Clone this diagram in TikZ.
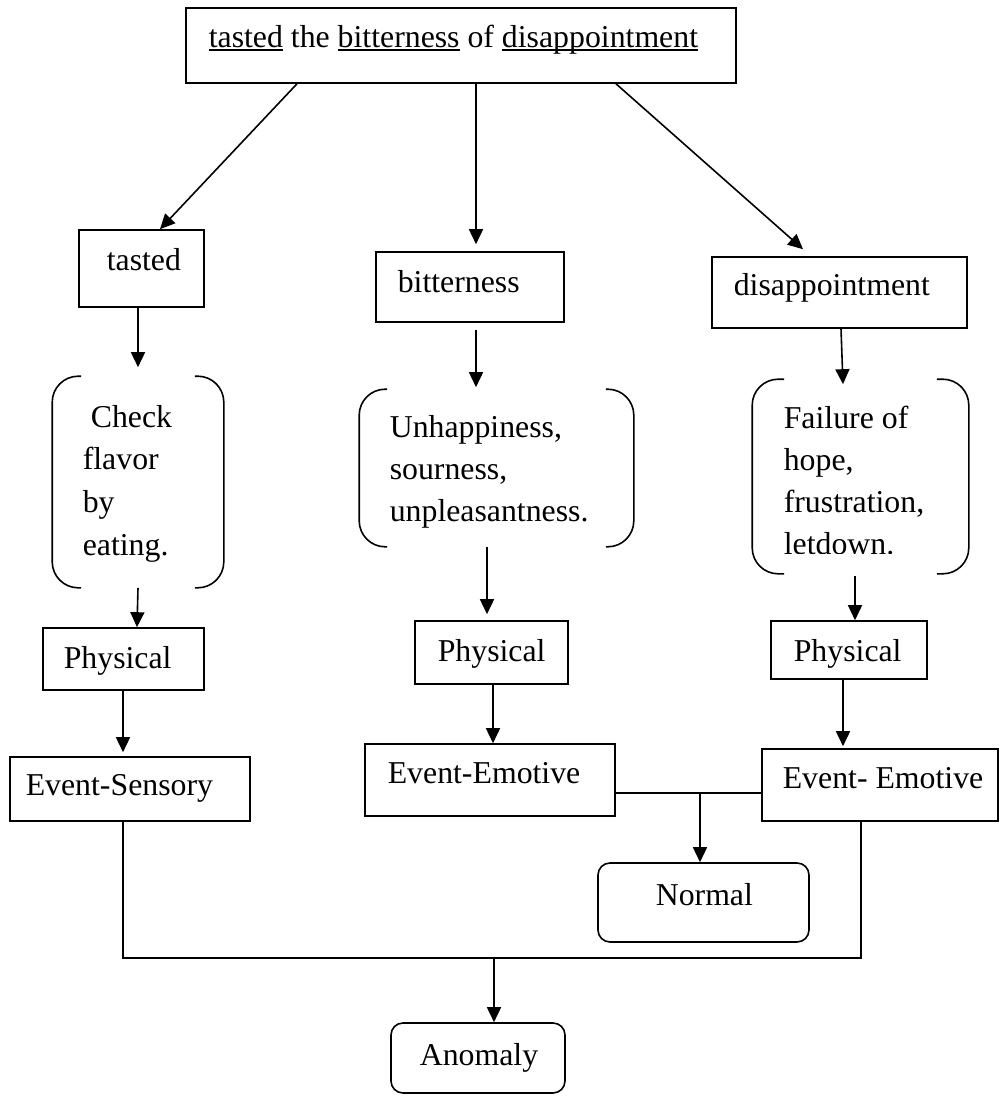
\documentclass[tikz,border=0pt]{standalone}
\usepackage{fontspec}
\setmainfont{Liberation Serif}
\usetikzlibrary{arrows.meta,calc}

% underline at a fixed depth, crossing descenders
\newcommand\wordline[1]{\setbox0\hbox{#1}\rlap{\rule[-2.6pt]{\wd0}{1.4pt}}\box0\relax}

% a pair of round brackets drawn on the corners of a named node
\newcommand\drawbrackets[2]{%
  \draw[rounded corners=26pt] ([xshift=#2]#1.north west) -- (#1.north west) -- (#1.south west) -- ([xshift=#2]#1.south west);
  \draw[rounded corners=26pt] ([xshift=-#2]#1.north east) -- (#1.north east) -- (#1.south east) -- ([xshift=-#2]#1.south east);}

\begin{document}
\begin{tikzpicture}[x=1pt, y=-1pt, line width=1.6pt,
  box/.style={draw, rectangle, inner sep=0pt},
  rbox/.style={draw, rectangle, rounded corners=12pt, inner sep=0pt},
  hold/.style={rectangle, inner sep=0pt},
  txt/.style={anchor=base west, inner sep=0pt, font=\fontsize{31.8}{40}\selectfont},
  arr/.style={-{Triangle[length=15pt,width=14pt]}}]

\useasboundingbox (0,0) rectangle (1001,1097);

% ---- boxes ----
\node[box, minimum width=550pt, minimum height=75pt] (top) at (461,45.5) {};
\node[box, minimum width=125pt, minimum height=77pt] (tasted) at (141.5,268.5) {};
\node[box, minimum width=188pt, minimum height=70pt] (bitter) at (470,287) {};
\node[box, minimum width=255pt, minimum height=71pt] (disap) at (839.5,292.5) {};

\node[hold, minimum width=170pt, minimum height=210pt] (brA) at (138,482) {};
\node[hold, minimum width=273pt, minimum height=156pt] (brB) at (496.5,468) {};
\node[hold, minimum width=215pt, minimum height=193pt] (brC) at (860.5,476.5) {};
\drawbrackets{brA}{29pt}
\drawbrackets{brB}{28pt}
\drawbrackets{brC}{32pt}

\node[box, minimum width=161pt, minimum height=62pt] (physA) at (123.5,659) {};
\node[box, minimum width=153pt, minimum height=63pt] (physB) at (491.5,652.5) {};
\node[box, minimum width=156pt, minimum height=58pt] (physC) at (849,650) {};

\node[box, minimum width=240pt, minimum height=64pt] (evA) at (130,789) {};
\node[box, minimum width=250pt, minimum height=72pt] (evB) at (490,780) {};
\node[box, minimum width=236pt, minimum height=72pt] (evC) at (880,785) {};

\node[rbox, minimum width=211pt, minimum height=79pt] (normal) at (703.5,902.5) {};
\node[rbox, minimum width=174pt, minimum height=70pt] (anomaly) at (478,1058) {};

% ---- texts ----
\node[txt] (tTop) at (208,48) {\wordline{tasted} the \wordline{bitterness} of \wordline{disappointment}};
\node[txt] (tTasted) at (106,270) {tasted};
\node[txt] (tBitter) at (397,292) {bitterness};
\node[txt] (tDisap) at (733,295) {disappointment};

\node[txt] (tA1) at (90,427) {Check};
\node[txt] (tA2) at (82,469) {flavor};
\node[txt] (tA3) at (82,512) {by};
\node[txt] (tA4) at (82,555) {eating.};

\node[txt] (tB1) at (389,437) {Unhappiness,};
\node[txt] (tB2) at (389,479) {sourness,};
\node[txt] (tB3) at (389,521) {unpleasantness.};

\node[txt] (tC1) at (783,428) {Failure of};
\node[txt] (tC2) at (783,470) {hope,};
\node[txt] (tC3) at (783,512) {frustration,};
\begin{scope}
  \clip (740,500) rectangle (960,553);
  \node[txt] (tC4) at (783,554) {letdown.};
\end{scope}

\node[txt] (tPA) at (63,668) {Physical};
\node[txt] (tPB) at (437,661) {Physical};
\node[txt] (tPC) at (793,661) {Physical};

\node[txt] (tEA) at (25,795) {Event-Sensory};
\node[txt] (tEB) at (387,783) {Event-Emotive};
\node[txt] (tEC) at (782,788) {Event- Emotive};
\node[txt] (tN) at (655,905) {Normal};
\node[txt] (tAn) at (419,1065) {Anomaly};

% ---- connectors ----
\draw[arr] ([xshift=-164pt]top.south) -- ([xshift=18.5pt]tasted.north);
\draw[arr] ([xshift=15pt]top.south) -- ([xshift=6pt,yshift=7pt]bitter.north);
\draw[arr] ([xshift=155pt]top.south) -- ([xshift=-36.5pt,yshift=7pt]disap.north);

\draw[arr] ([xshift=-3.5pt]tasted.south) -- ([yshift=9pt]brA.north);
\draw[arr] ([xshift=6pt,yshift=-7pt]bitter.south) -- ([xshift=-20.5pt,yshift=2pt]brB.north);
\draw[arr] ([xshift=1.5pt]disap.south) -- ([xshift=-17.5pt,yshift=-5pt]brC.north);

\draw[arr] (brA.south) -- ([xshift=13.5pt]physA.north);
\draw[arr] ([xshift=-9.5pt]brB.south) -- ([xshift=-4.5pt,yshift=6pt]physB.north);
\draw[arr] ([xshift=-5.5pt,yshift=-2pt]brC.south) -- ([xshift=6pt]physC.north);

\draw[arr] ([xshift=-0.5pt]physA.south) -- ([xshift=-7pt,yshift=4pt]evA.north);
\draw[arr] ([xshift=1.5pt]physB.south) -- ([xshift=3pt]evB.north);
\draw[arr] ([xshift=-6pt]physC.south) -- ([xshift=-37pt,yshift=2pt]evC.north);

% Event-Emotive pair joined, branching down to Normal
\coordinate (jN) at (700,793);
\draw ([yshift=-13pt]evB.east) -- ([yshift=-8pt]evC.west);
\draw[arr] (jN) -- (normal.north -| jN);

% all three events gathered into Anomaly
\coordinate (jA) at (494,958);
\draw ([xshift=-7pt]evA.south) |- (jA) -| ([xshift=-19pt]evC.south);
\draw[arr] (jA) -- (anomaly.north -| jA);

\end{tikzpicture}
\end{document}
